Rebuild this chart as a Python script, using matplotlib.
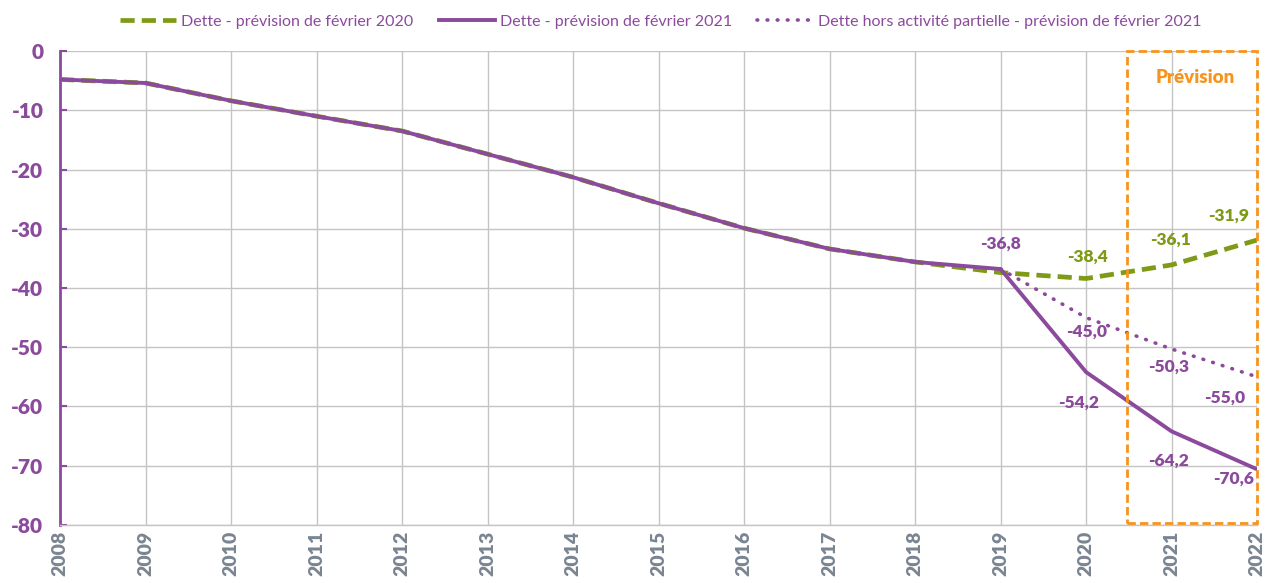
import matplotlib
matplotlib.use("Agg")
import matplotlib.pyplot as plt
from matplotlib.patches import Rectangle

plt.rcParams['font.family'] = ['Lato', 'DejaVu Sans']

years = list(range(2008, 2023))
dette_2020 = [-4.8, -5.4, -8.4, -11.0, -13.5, -17.4, -21.3, -25.7, -29.9, -33.4, -35.6, -37.4, -38.4, -36.1, -31.9]
dette_2021 = [-4.8, -5.4, -8.4, -11.0, -13.5, -17.4, -21.3, -25.7, -29.9, -33.4, -35.6, -36.8, -54.2, -64.2, -70.6]
years_hap = [2019, 2020, 2021, 2022]
dette_hap = [-36.8, -45.0, -50.3, -55.0]

yticks = [0, -10, -20, -30, -40, -50, -60, -70, -80]

PURPLE = '#8B4A9C'
GREEN = '#7E9A16'
ORANGE = '#F7941D'
GREY = '#7A8591'

fig = plt.figure(figsize=(12.66, 5.83), dpi=100)
ax = fig.add_axes([0.0474, 0.0995, 0.9456, 0.813])

l1, = ax.plot(years, dette_2020, color=GREEN, lw=3.4, ls=(0, (3.0, 1.5)), zorder=3,
              label='Dette - prévision de février 2020')
l2, = ax.plot(years, dette_2021, color=PURPLE, lw=2.8, zorder=4,
              label='Dette - prévision de février 2021')
l3, = ax.plot(years_hap, dette_hap, color=PURPLE, lw=2.6, ls=(0, (0.2, 2.6)),
              dash_capstyle='round', zorder=3,
              label='Dette hors activité partielle - prévision de février 2021')

ax.set_xlim(2008, 2022)
ax.set_ylim(-80, 0)
ax.set_xticks(years)
ax.set_xticklabels([str(y) for y in years], rotation=90, fontsize=14,
                   fontweight='heavy', color=GREY)
ax.set_yticks(yticks)
ax.set_yticklabels([str(v) for v in yticks], fontsize=15, fontweight='heavy', color=PURPLE)
ax.tick_params(axis='y', direction='in', length=5, width=1.5, color=PURPLE, pad=12)
ax.tick_params(axis='x', length=0, pad=4)
ax.grid(True, color='#C4C4C4', lw=1)
ax.set_axisbelow(True)
for s in ['top', 'right']:
    ax.spines[s].set_visible(False)
ax.spines['left'].set_color(PURPLE)
ax.spines['left'].set_linewidth(2)
ax.spines['bottom'].set_color('#C4C4C4')
ax.spines['bottom'].set_linewidth(1)

# Prévision box
ax.add_patch(Rectangle((2020.48, -79.7), 2022 - 2020.48, 79.7, fill=False,
                       edgecolor=ORANGE, lw=2, ls=(0, (3, 1.5)), zorder=5, clip_on=False))
ax.text(2021.28, -4.5, 'Prévision', color=ORANGE, fontsize=13.5, fontweight='heavy',
        ha='center', va='center')

# Data labels
def lab(x, y, text, dx, dy, color):
    ax.annotate(text, (x, y), xytext=(dx, dy), textcoords='offset pixels',
                ha='center', va='center', color=color, fontsize=12.5, fontweight='heavy')

lab(2019, -36.8, '-36,8', 0, 25, PURPLE)
lab(2020, -38.4, '-38,4', 1, 22, GREEN)
lab(2021, -36.1, '-36,1', -1, 25, GREEN)
lab(2022, -31.9, '-31,9', -29, 24, GREEN)
lab(2020, -45.0, '-45,0', 1, -14, PURPLE)
lab(2020, -54.2, '-54,2', -8, -31, PURPLE)
lab(2021, -50.3, '-50,3', -3, -18, PURPLE)
lab(2022, -55.0, '-55,0', -32, -21, PURPLE)
lab(2021, -64.2, '-64,2', -3, -29, PURPLE)
lab(2022, -70.6, '-70,6', -24, -9, PURPLE)

leg = fig.legend(handles=[l1, l2, l3], loc='upper center', bbox_to_anchor=(0.522, 1.0),
                 ncol=3, frameon=False, fontsize=11.5, handlelength=3.5,
                 columnspacing=1.6, handletextpad=0.3)
for t in leg.get_texts():
    t.set_color(PURPLE)

fig.savefig('out.png', dpi=100)
